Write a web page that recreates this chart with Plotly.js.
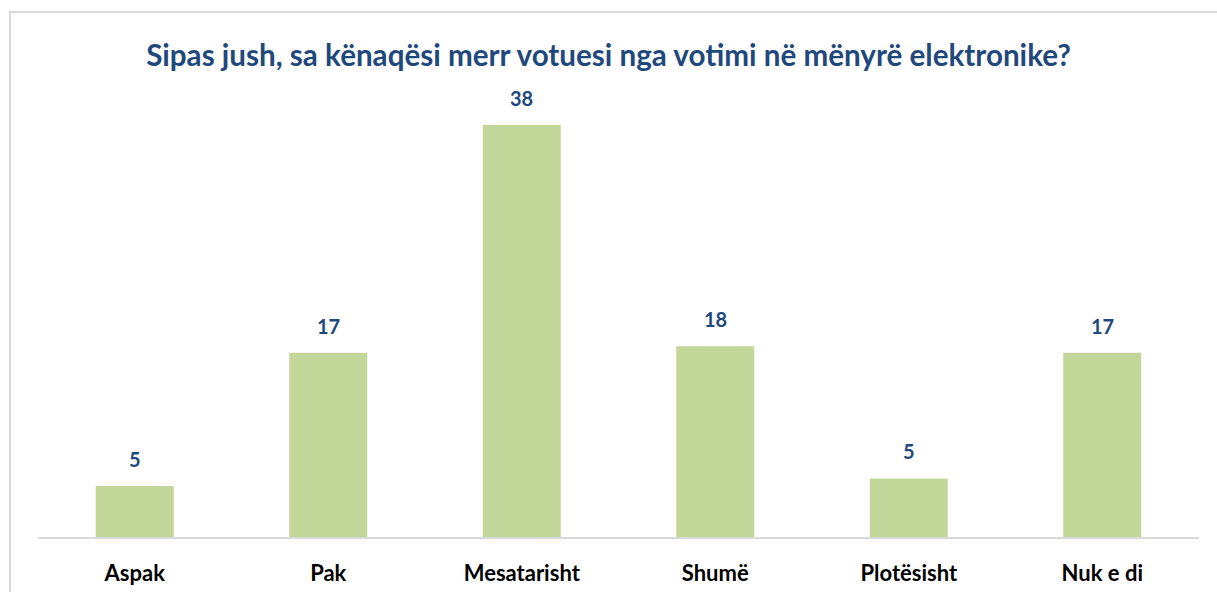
<!DOCTYPE html>
<html>
<head>
<meta charset="utf-8">
<script src="https://cdn.plot.ly/plotly-3.0.1.min.js"></script>
<style>
  html, body { margin: 0; padding: 0; background: #fff; }
  #wrap { position: relative; width: 1217px; height: 592px; }
  #frame { position: absolute; left: 9px; top: 11px; right: 0; bottom: 0;
           border-left: 2px solid #D9D9D9; border-top: 2px solid #D9D9D9; pointer-events: none; }
  #chart { position: absolute; left: 0; top: 0; width: 1217px; height: 592px; }
</style>
</head>
<body>
<div id="wrap">
  <div id="chart"></div>
  <div id="frame"></div>
</div>
<script>
const categories = ["Aspak", "Pak", "Mesatarisht", "Shumë", "Plotësisht", "Nuk e di"];
const values = [4.7, 17.0, 38.0, 17.6, 5.4, 17.0];
const labels = ["5", "17", "38", "18", "5", "17"];

const FONT = "Lato, 'Open Sans', 'Noto Sans', sans-serif";

const trace = {
  type: "bar",
  x: categories,
  y: values,
  marker: { color: "#C4D79B" },
  hoverinfo: "x+y"
};

const annotations = categories.map((c, i) => ({
  x: c, y: values[i], xref: "x", yref: "y",
  text: "<b>" + labels[i] + "</b>",
  showarrow: false, yanchor: "bottom", yshift: 13,
  font: { family: FONT, size: 20, color: "#1F497D" }
}));

const layout = {
  width: 1217, height: 592,
  margin: { l: 38, r: 18, t: 100, b: 55 },
  paper_bgcolor: "#fff", plot_bgcolor: "#fff",
  title: {
    text: "<b>Sipas jush, sa kënaqësi merr votuesi nga votimi në mënyrë elektronike?</b>",
    x: 0.5, xanchor: "center", y: 1 - 56/592, yanchor: "middle",
    font: { family: FONT, size: 29.6, color: "#1F497D" }
  },
  bargap: 0.597,
  showlegend: false,
  xaxis: {
    showline: true, linecolor: "#D9D9D9", linewidth: 2,
    ticks: "", ticklabelstandoff: 16,
    tickmode: "array",
    tickvals: categories,
    ticktext: categories.map(c => "<b>" + c + "</b>"),
    tickfont: { family: FONT, size: 22, color: "#000" },
    showgrid: false, zeroline: false
  },
  yaxis: {
    range: [0, 40.3], visible: false, showgrid: false, zeroline: false
  },
  annotations: annotations
};

Plotly.newPlot("chart", [trace], layout, { displayModeBar: false, staticPlot: true });
</script>
</body>
</html>
